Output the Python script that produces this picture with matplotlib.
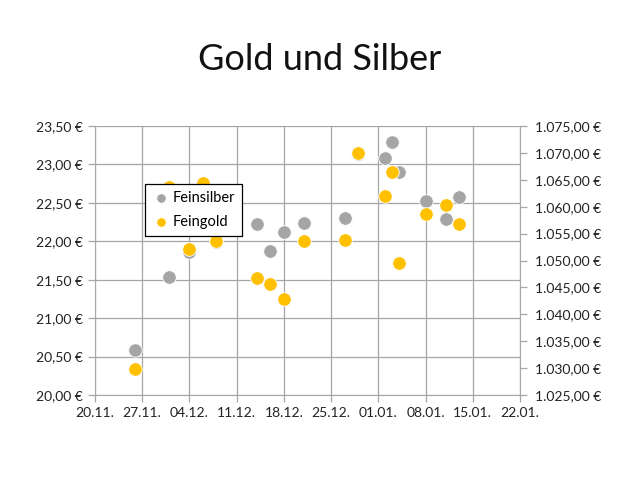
import pandas as pd
import numpy as np
import matplotlib.pyplot as plt
import matplotlib.dates as mdates
from matplotlib.ticker import FuncFormatter, MultipleLocator

plt.rcParams['font.family'] = ['Lato', 'DejaVu Sans']

# Feinsilber (linke Achse, EUR)
silber_datum = ["2012-11-26", "2012-12-01", "2012-12-04", "2012-12-08", "2012-12-14",
                "2012-12-16", "2012-12-18", "2012-12-21", "2012-12-27", "2012-12-29",
                "2013-01-02", "2013-01-03", "2013-01-04", "2013-01-08", "2013-01-11",
                "2013-01-13"]
silber_wert = [20.58, 21.53, 21.86, 21.99, 22.23, 21.88, 22.12, 22.24, 22.30, 23.13,
               23.09, 23.29, 22.90, 22.52, 22.29, 22.58]

# Feingold (rechte Achse, EUR)
gold_datum = ["2012-11-26", "2012-12-01", "2012-12-04", "2012-12-06", "2012-12-08",
              "2012-12-14", "2012-12-16", "2012-12-18", "2012-12-21", "2012-12-27",
              "2012-12-29", "2013-01-02", "2013-01-03", "2013-01-04", "2013-01-08",
              "2013-01-11", "2013-01-13"]
gold_wert = [1029.8, 1063.6, 1052.1, 1064.4, 1053.6, 1046.8, 1045.6, 1042.8, 1053.6,
             1053.9, 1070.0, 1062.0, 1066.4, 1049.6, 1058.6, 1060.3, 1056.7]

silber_x = pd.to_datetime(silber_datum)
gold_x = pd.to_datetime(gold_datum)


def de_fmt(v, pos):
    s = "{:,.2f}".format(v)
    s = s.replace(",", "X").replace(".", ",").replace("X", ".")
    return s + " €"


fig = plt.figure(figsize=(6.4, 4.83), dpi=100)
ax = fig.add_axes([0.1484, 0.1822, 0.6641, 0.5569])
ax2 = ax.twinx()

gridcol = "#a6a6a6"
ax.scatter(silber_x, silber_wert, s=95, color="#a5a5a5", edgecolor="white",
           linewidth=0.6, zorder=3, label="Feinsilber")
ax2.scatter(gold_x, gold_wert, s=95, color="#ffc000", edgecolor="white",
            linewidth=0.6, zorder=3, label="Feingold")

ax.set_xlim(pd.Timestamp("2012-11-20"), pd.Timestamp("2013-01-22"))
ax.set_ylim(20, 23.5)
ax2.set_ylim(1025, 1075)

ax.set_xticks(pd.date_range("2012-11-20", "2013-01-22", freq="7D"))
ax.xaxis.set_major_formatter(mdates.DateFormatter("%d.%m."))
ax.yaxis.set_major_locator(MultipleLocator(0.5))
ax.yaxis.set_major_formatter(FuncFormatter(de_fmt))
ax2.yaxis.set_major_locator(MultipleLocator(5))
ax2.yaxis.set_major_formatter(FuncFormatter(de_fmt))

ax.grid(True, color=gridcol, linewidth=0.9)
ax.set_axisbelow(True)
for a in (ax, ax2):
    for sp in a.spines.values():
        sp.set_visible(False)
    a.tick_params(colors=gridcol, labelcolor="#222222", labelsize=10,
                  length=5, width=0.9)
ax.spines['left'].set_visible(True)
ax.spines['left'].set_color(gridcol)
ax.spines['bottom'].set_visible(True)
ax.spines['bottom'].set_color(gridcol)
ax2.spines['right'].set_visible(True)
ax2.spines['right'].set_color(gridcol)
ax.tick_params(axis='x', pad=4)
ax2.tick_params(axis='y', pad=6)

h1, l1 = ax.get_legend_handles_labels()
h2, l2 = ax2.get_legend_handles_labels()
leg = ax2.legend(h1 + h2, l1 + l2, loc="upper left", bbox_to_anchor=(0.118, 0.783),
                 borderaxespad=0, fancybox=False, framealpha=1, edgecolor="black",
                 fontsize=10.5, markerscale=0.7, handletextpad=0.15, borderpad=0.45,
                 labelspacing=0.7, handlelength=1.3)
leg.get_frame().set_linewidth(0.9)
leg.set_zorder(10)

fig.text(0.5, 0.877, "Gold und Silber", ha="center", va="center", fontsize=26,
         color="#111111")

fig.savefig("out.png", dpi=100)
